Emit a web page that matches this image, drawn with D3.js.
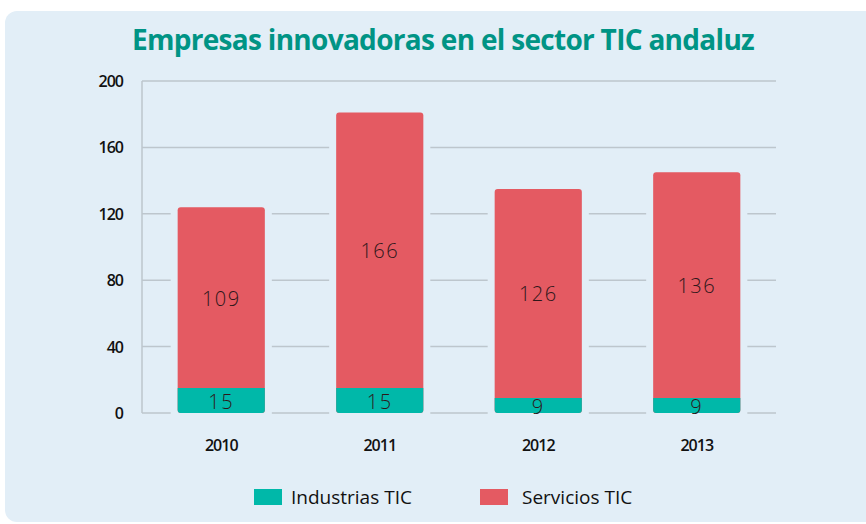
<!DOCTYPE html>
<html>
<head>
<meta charset="utf-8">
<script src="https://cdn.jsdelivr.net/npm/d3@7"></script>
<style>
  body { margin: 0; background: #fff; }
  svg { display: block; }
</style>
</head>
<body>
<svg id="chart" width="866" height="524"></svg>
<script>
// data
const years = ["2010", "2011", "2012", "2013"];
const industrias = [15, 15, 9, 9];
const servicios = [109, 166, 126, 136];
const yTicks = [0, 40, 80, 120, 160, 200];
const seriesNames = ["Industrias TIC", "Servicios TIC"];

const colors = { ind: "#00b8a9", serv: "#e45a62", bg: "#e2eef7", grid: "#bdc6cd" };
const fontFamily = "'Open Sans', 'Noto Sans', sans-serif";

const svg = d3.select("#chart");

// panel
svg.append("rect")
  .attr("x", 5).attr("y", 11)
  .attr("width", 900).attr("height", 511)
  .attr("rx", 12)
  .attr("fill", colors.bg);

// title
svg.append("text")
  .attr("x", 443).attr("y", 50)
  .attr("text-anchor", "middle")
  .attr("font-family", fontFamily)
  .attr("font-weight", 700)
  .attr("font-size", 28)
  .attr("letter-spacing", -0.7)
  .attr("fill", "#009485")
  .text("Empresas innovadoras en el sector TIC andaluz");

const x = d3.scaleBand()
  .domain(years)
  .range([142, 776])
  .paddingInner(0.45)
  .paddingOuter(0.225);

const y = d3.scaleLinear().domain([0, 200]).range([413, 81]);

// grid lines
svg.append("g")
  .selectAll("line")
  .data(yTicks)
  .join("line")
    .attr("x1", 142).attr("x2", 776)
    .attr("y1", d => y(d)).attr("y2", d => y(d))
    .attr("stroke", colors.grid)
    .attr("stroke-width", 1.5);

// vertical axis line
svg.append("line")
  .attr("x1", 142).attr("x2", 142)
  .attr("y1", y(200)).attr("y2", y(0))
  .attr("stroke", colors.grid)
  .attr("stroke-width", 1.5);

// y tick labels
svg.append("g")
  .selectAll("text")
  .data(yTicks)
  .join("text")
    .attr("x", 123)
    .attr("y", d => y(d) + 6)
    .attr("text-anchor", "end")
    .attr("font-family", fontFamily)
    .attr("font-weight", 600)
    .attr("font-size", 16)
    .attr("letter-spacing", -1)
    .attr("fill", "#111")
    .text(d => d);

const rows = years.map((yr, i) => ({ year: yr, ind: industrias[i], serv: servicios[i] }));

// halo behind bars so grid lines stop short of them
svg.append("g")
  .selectAll("rect")
  .data(rows)
  .join("rect")
    .attr("x", d => x(d.year) - 7)
    .attr("width", x.bandwidth() + 14)
    .attr("y", d => y(d.ind + d.serv))
    .attr("height", d => y(0) - y(d.ind + d.serv) + 3)
    .attr("fill", colors.bg);

const bars = svg.append("g");

// servicios (top), drawn full height with rounded corners
bars.selectAll(".serv")
  .data(rows)
  .join("rect")
    .attr("class", "serv")
    .attr("x", d => x(d.year))
    .attr("width", x.bandwidth())
    .attr("y", d => y(d.ind + d.serv))
    .attr("height", d => y(0) - y(d.ind + d.serv))
    .attr("rx", 3)
    .attr("fill", colors.serv);

// industrias (bottom)
bars.selectAll(".ind")
  .data(rows)
  .join("path")
    .attr("class", "ind")
    .attr("fill", colors.ind)
    .attr("d", d => {
      const x0 = x(d.year), x1 = x0 + x.bandwidth();
      const t = y(d.ind), b = y(0), r = 3;
      return `M${x0},${t}H${x1}V${b - r}Q${x1},${b} ${x1 - r},${b}H${x0 + r}Q${x0},${b} ${x0},${b - r}Z`;
    });

// value labels
const labelStyle = sel => sel
  .attr("text-anchor", "middle")
  .attr("font-family", fontFamily)
  .attr("font-weight", 300)
  .attr("font-size", 20)
  .attr("letter-spacing", 1.5)
  .attr("fill", "#2e171a");

bars.selectAll(".lserv")
  .data(rows)
  .join("text")
    .attr("class", "lserv")
    .attr("x", d => x(d.year) + x.bandwidth() / 2)
    .attr("y", d => y(d.ind + d.serv / 2) + 8)
    .call(labelStyle)
    .text(d => d.serv);

bars.selectAll(".lind")
  .data(rows)
  .join("text")
    .attr("class", "lind")
    .attr("x", d => x(d.year) + x.bandwidth() / 2)
    .attr("y", d => y(d.ind / 2) + 8)
    .call(labelStyle)
    .text(d => d.ind);

// x labels
svg.append("g")
  .selectAll("text")
  .data(years)
  .join("text")
    .attr("x", d => x(d) + x.bandwidth() / 2)
    .attr("y", 451)
    .attr("text-anchor", "middle")
    .attr("font-family", fontFamily)
    .attr("font-weight", 600)
    .attr("font-size", 16)
    .attr("letter-spacing", -1)
    .attr("fill", "#111")
    .text(d => d);

// legend
const legendX = [254, 480];
const legendColors = [colors.ind, colors.serv];
const legend = svg.append("g")
  .selectAll("g")
  .data(seriesNames)
  .join("g")
    .attr("transform", (d, i) => `translate(${legendX[i]},489)`);

legend.append("rect")
  .attr("width", 28).attr("height", 16)
  .attr("fill", (d, i) => legendColors[i]);

legend.append("text")
  .attr("x", (d, i) => i === 0 ? 37 : 42)
  .attr("y", 15)
  .attr("font-family", fontFamily)
  .attr("font-size", 19)
  .attr("fill", "#111")
  .text(d => d);
</script>
</body>
</html>
